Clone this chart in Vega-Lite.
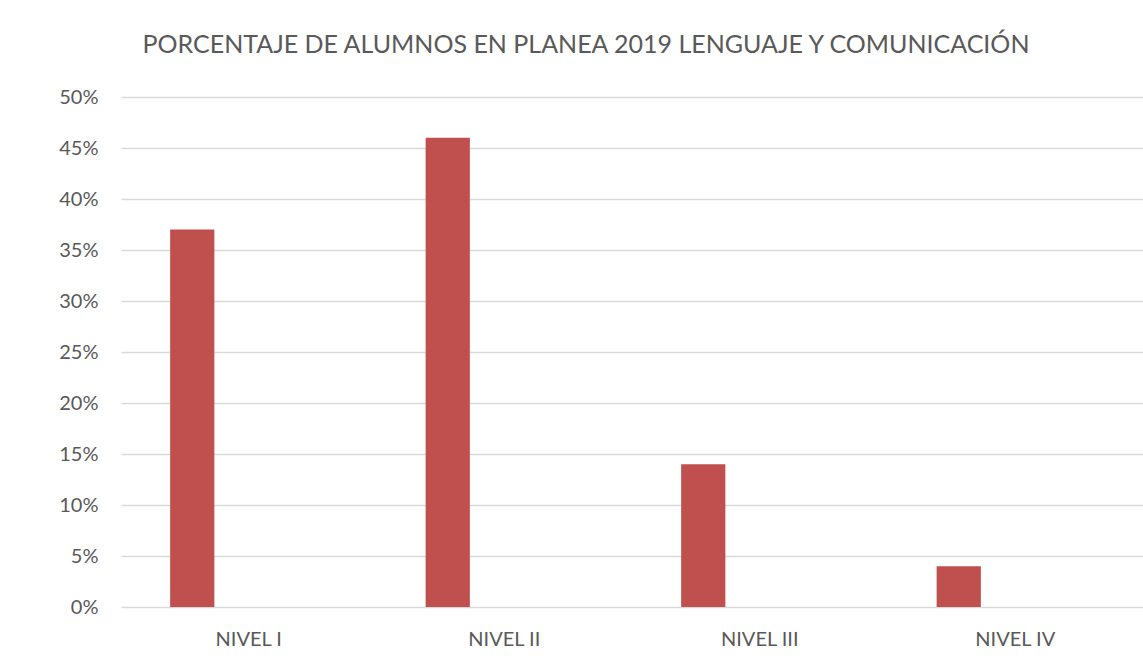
{
  "$schema": "https://vega.github.io/schema/vega-lite/v6.json",
  "autosize": {"type": "none"},
  "padding": {"left": 121, "top": 97, "right": 0, "bottom": 65},
  "width": 1022,
  "height": 510,
  "background": "white",
  "title": {
    "text": "PORCENTAJE DE ALUMNOS EN PLANEA 2019 LENGUAJE Y COMUNICACIÓN",
    "font": "Lato",
    "fontSize": 25,
    "fontWeight": "normal",
    "color": "#595959",
    "anchor": "middle",
    "frame": "group",
    "baseline": "alphabetic",
    "offset": 9,
    "dx": -46
  },
  "data": {
    "values": [
      {"nivel": "NIVEL I", "serie": "A", "valor": 0.37},
      {"nivel": "NIVEL II", "serie": "A", "valor": 0.46},
      {"nivel": "NIVEL III", "serie": "A", "valor": 0.14},
      {"nivel": "NIVEL IV", "serie": "A", "valor": 0.04}
    ]
  },
  "mark": {"type": "bar", "color": "#c0504d"},
  "encoding": {
    "x": {
      "field": "nivel",
      "type": "nominal",
      "sort": ["NIVEL I", "NIVEL II", "NIVEL III", "NIVEL IV"],
      "scale": {"paddingInner": 0, "paddingOuter": 0},
      "axis": {
        "title": null,
        "labelAngle": 0,
        "labelFont": "Lato",
        "labelFontSize": 20,
        "labelColor": "#595959",
        "labelPadding": 22,
        "ticks": false,
        "domain": false,
        "grid": false
      }
    },
    "xOffset": {
      "field": "serie",
      "type": "nominal",
      "scale": {"domain": ["A", "B"], "paddingInner": 0.6087, "paddingOuter": 0.4348}
    },
    "y": {
      "field": "valor",
      "type": "quantitative",
      "scale": {"domain": [0, 0.5], "nice": false},
      "axis": {
        "title": null,
        "format": ".0%",
        "values": [0, 0.05, 0.1, 0.15, 0.2, 0.25, 0.3, 0.35, 0.4, 0.45, 0.5],
        "labelFont": "Lato",
        "labelFontSize": 20,
        "labelColor": "#595959",
        "labelPadding": 23,
        "ticks": false,
        "domain": false,
        "grid": true,
        "gridColor": "#d9d9d9",
        "gridWidth": 1.5
      }
    }
  },
  "config": {"view": {"stroke": null}}
}
